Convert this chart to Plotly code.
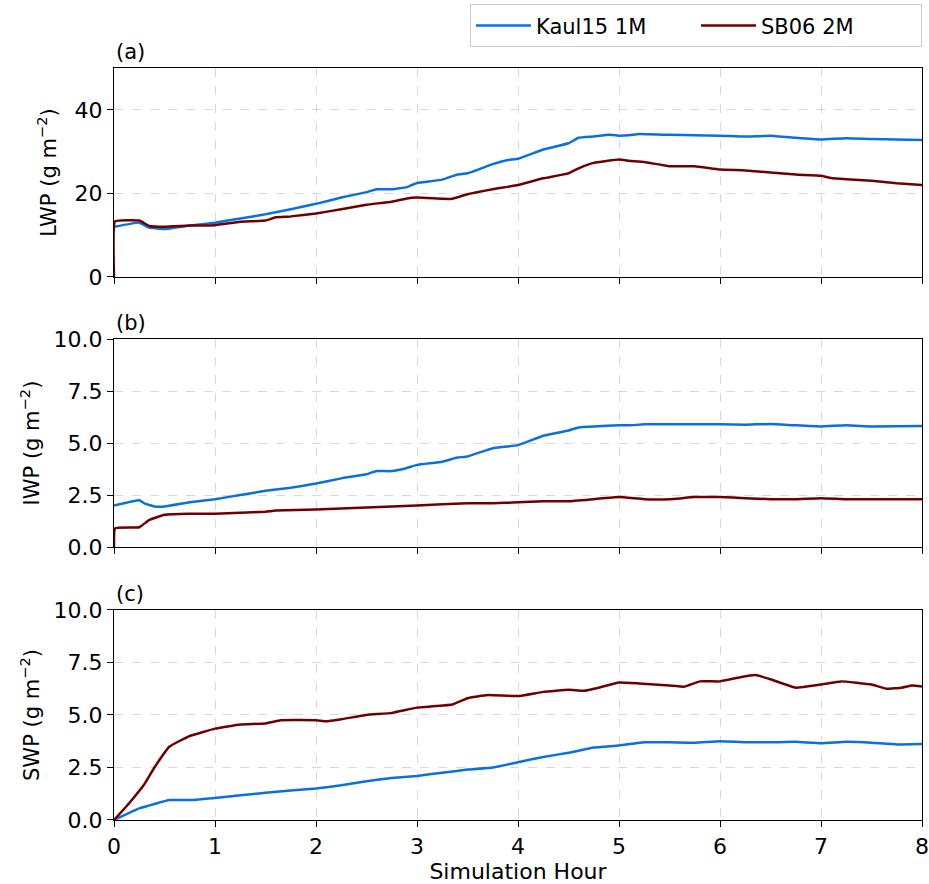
import plotly.graph_objects as go
from plotly.subplots import make_subplots

# ---- data ----
lwp_k_x = [0, 0.25, 0.35, 0.5, 0.75, 1.0, 1.25, 1.5, 1.75, 2.0, 2.25, 2.5, 2.6, 2.75, 2.9, 3.0, 3.25, 3.4, 3.5, 3.75, 3.9, 4.0, 4.25, 4.5, 4.6, 4.75, 4.9, 5.0, 5.1, 5.2, 5.5, 6.0, 6.25, 6.5, 6.75, 7.0, 7.25, 7.5, 8.0]
lwp_k_y = [12, 13, 11.8, 11.5, 12.3, 13, 14, 15, 16.2, 17.5, 19, 20.3, 21, 21, 21.5, 22.5, 23.3, 24.5, 24.8, 27, 28, 28.3, 30.5, 32, 33.3, 33.6, 34, 33.8, 33.9, 34.2, 34, 33.8, 33.6, 33.8, 33.3, 32.9, 33.2, 33, 32.8]
lwp_s_x = [0, 0.01, 0.25, 0.35, 0.5, 0.75, 1.0, 1.25, 1.5, 1.6, 1.75, 2.0, 2.25, 2.5, 2.75, 2.9, 3.0, 3.25, 3.35, 3.5, 3.75, 4.0, 4.25, 4.5, 4.6, 4.75, 5.0, 5.1, 5.25, 5.5, 5.75, 6.0, 6.25, 6.5, 6.75, 7.0, 7.1, 7.25, 7.5, 7.75, 8.0]
lwp_s_y = [0, 13.3, 13.5, 12.2, 12, 12.3, 12.4, 13.2, 13.5, 14.3, 14.5, 15.2, 16.2, 17.3, 18, 18.8, 19, 18.7, 18.7, 19.8, 21, 22, 23.6, 24.8, 26, 27.3, 28.1, 27.8, 27.5, 26.5, 26.5, 25.7, 25.5, 25, 24.5, 24.2, 23.7, 23.4, 23, 22.4, 22]

iwp_k_x = [0, 0.25, 0.3, 0.4, 0.5, 0.75, 1.0, 1.25, 1.5, 1.75, 2.0, 2.25, 2.5, 2.6, 2.75, 2.9, 3.0, 3.25, 3.4, 3.5, 3.75, 4.0, 4.25, 4.5, 4.6, 4.75, 5.0, 5.1, 5.25, 5.5, 6.0, 6.25, 6.5, 6.75, 7.0, 7.25, 7.5, 8.0]
iwp_k_y = [2.0, 2.25, 2.1, 1.95, 1.95, 2.15, 2.3, 2.5, 2.7, 2.85, 3.05, 3.3, 3.5, 3.65, 3.65, 3.8, 3.95, 4.1, 4.3, 4.35, 4.75, 4.9, 5.35, 5.6, 5.75, 5.8, 5.85, 5.85, 5.9, 5.9, 5.9, 5.88, 5.92, 5.85, 5.8, 5.85, 5.8, 5.82]
iwp_s_x = [0, 0.01, 0.25, 0.35, 0.5, 0.75, 1.0, 1.25, 1.5, 1.6, 2.0, 2.5, 2.75, 3.0, 3.5, 3.75, 4.0, 4.25, 4.5, 4.75, 5.0, 5.25, 5.5, 5.75, 6.0, 6.25, 6.5, 6.75, 7.0, 7.25, 7.5, 8.0]
iwp_s_y = [0, 0.9, 0.95, 1.3, 1.55, 1.6, 1.6, 1.65, 1.7, 1.75, 1.8, 1.9, 1.95, 2.0, 2.1, 2.1, 2.15, 2.2, 2.2, 2.3, 2.4, 2.3, 2.3, 2.4, 2.4, 2.35, 2.3, 2.3, 2.35, 2.3, 2.3, 2.3]

swp_k_x = [0, 0.25, 0.55, 0.75, 1.0, 1.5, 2.0, 2.25, 2.5, 2.75, 3.0, 3.25, 3.5, 3.75, 4.0, 4.25, 4.5, 4.75, 5.0, 5.25, 5.5, 5.75, 6.0, 6.25, 6.5, 6.75, 7.0, 7.25, 7.5, 7.75, 8.0]
swp_k_y = [0, 0.55, 0.95, 0.95, 1.05, 1.3, 1.5, 1.65, 1.85, 2.0, 2.1, 2.25, 2.4, 2.5, 2.75, 3.0, 3.2, 3.45, 3.55, 3.7, 3.7, 3.68, 3.75, 3.7, 3.7, 3.72, 3.65, 3.72, 3.68, 3.6, 3.62]
swp_s_x = [0, 0.15, 0.3, 0.4, 0.55, 0.75, 1.0, 1.25, 1.5, 1.65, 2.0, 2.1, 2.25, 2.5, 2.75, 3.0, 3.25, 3.35, 3.5, 3.7, 4.0, 4.25, 4.5, 4.65, 4.8, 5.0, 5.2, 5.5, 5.65, 5.8, 6.0, 6.2, 6.35, 6.5, 6.75, 7.0, 7.2, 7.5, 7.65, 7.8, 7.9, 8.0]
swp_s_y = [0, 0.8, 1.7, 2.5, 3.5, 4.0, 4.35, 4.55, 4.6, 4.75, 4.75, 4.7, 4.8, 5.0, 5.1, 5.35, 5.45, 5.5, 5.8, 5.95, 5.9, 6.1, 6.2, 6.15, 6.3, 6.55, 6.5, 6.4, 6.35, 6.6, 6.6, 6.8, 6.9, 6.7, 6.3, 6.45, 6.6, 6.45, 6.25, 6.3, 6.4, 6.35]

names = ["Kaul15 1M", "SB06 2M"]
colors = ["#0a70dc", "#6e0000"]
panel_labels = ["(a)", "(b)", "(c)"]
y_titles = ["LWP (g m<sup>\u22122</sup>)", "IWP (g m<sup>\u22122</sup>)", "SWP (g m<sup>\u22122</sup>)"]
x_ticks = [0, 1, 2, 3, 4, 5, 6, 7, 8]

FONT = "DejaVu Sans"
FS = 22
fig = make_subplots(rows=3, cols=1, shared_xaxes=False)

panels = [
    (lwp_k_x, lwp_k_y, lwp_s_x, lwp_s_y, [0, 50], [0, 20, 40]),
    (iwp_k_x, iwp_k_y, iwp_s_x, iwp_s_y, [0, 10], [0, 2.5, 5, 7.5, 10]),
    (swp_k_x, swp_k_y, swp_s_x, swp_s_y, [0, 10], [0, 2.5, 5, 7.5, 10]),
]
domains = [[0.7221, 1.0], [0.3630, 0.6396], [0.0, 0.2793]]
standoffs = [12, 8, 8]

for i, (kx, ky, sx, sy, yr, yt) in enumerate(panels):
    r = i + 1
    fig.add_trace(go.Scatter(x=kx, y=ky, mode="lines", name=names[0],
                             line=dict(color=colors[0], width=2.5, shape="spline", smoothing=0.3),
                             showlegend=(i == 0)), row=r, col=1)
    fig.add_trace(go.Scatter(x=sx, y=sy, mode="lines", name=names[1],
                             line=dict(color=colors[1], width=2.5, shape="spline", smoothing=0.3),
                             showlegend=(i == 0)), row=r, col=1)
    ticktext = [("%.1f" % v) if yr[1] == 10 else ("%d" % v) for v in yt]
    fig.update_yaxes(range=yr, tickvals=yt, ticktext=ticktext, domain=domains[i],
                     showgrid=True, gridcolor="#d9d9d9", griddash="dash", gridwidth=1,
                     zeroline=False, showline=True, linecolor="black", linewidth=1.3, mirror=True,
                     ticks="outside", ticklen=6, tickcolor="black", automargin=False,
                     title=dict(text=y_titles[i], standoff=standoffs[i],
                                font=dict(size=FS - 1, family=FONT, color="black")),
                     tickfont=dict(size=FS, family=FONT, color="black"), row=r, col=1)
    fig.update_xaxes(range=[0, 8], tickvals=x_ticks, showticklabels=(i == 2),
                     showgrid=True, gridcolor="#d9d9d9", griddash="dash", gridwidth=1,
                     zeroline=False, showline=True, linecolor="black", linewidth=1.3, mirror=True,
                     ticks="outside", ticklen=6, tickcolor="black", automargin=False,
                     tickfont=dict(size=FS, family=FONT, color="black"), row=r, col=1)
    yref = "y domain" if i == 0 else "y%d domain" % r
    xref = "x domain" if i == 0 else "x%d domain" % r
    fig.add_annotation(text=panel_labels[i], xref=xref, yref=yref, x=0, y=1.01,
                       xanchor="left", yanchor="bottom", showarrow=False,
                       font=dict(size=FS - 1, family=FONT, color="black"))

fig.update_xaxes(title=dict(text="Simulation Hour", font=dict(size=FS, family=FONT, color="black"), standoff=2), row=3, col=1)

fig.update_layout(
    width=929, height=884,
    margin=dict(l=114, r=7, t=68, b=64),
    plot_bgcolor="white", paper_bgcolor="white",
    font=dict(family=FONT, size=FS, color="black"),
    legend=dict(orientation="h", x=1.0, xanchor="right", y=0.995, yanchor="top",
                yref="container",
                bordercolor="#cccccc", borderwidth=1, bgcolor="white",
                itemwidth=55,
                font=dict(size=FS - 1, family=FONT), entrywidth=155, entrywidthmode="pixels"),
)

fig.write_html("out.html")
